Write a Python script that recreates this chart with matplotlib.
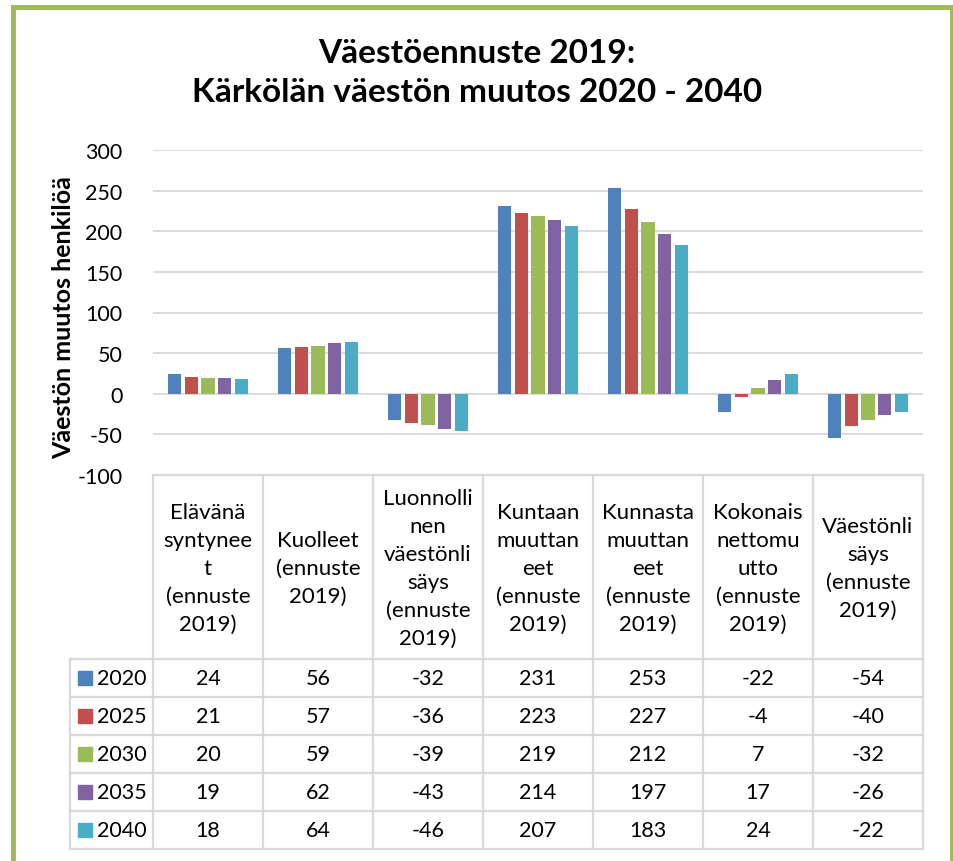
import matplotlib
matplotlib.use('Agg')
import matplotlib.pyplot as plt
from matplotlib.lines import Line2D
from matplotlib.patches import Rectangle

# data
categories = [
    'Elävänä\nsyntynee\nt\n(ennuste\n2019)',
    'Kuolleet\n(ennuste\n2019)',
    'Luonnolli\nnen\nväestönli\nsäys\n(ennuste\n2019)',
    'Kuntaan\nmuuttan\neet\n(ennuste\n2019)',
    'Kunnasta\nmuuttan\neet\n(ennuste\n2019)',
    'Kokonais\nnettomu\nutto\n(ennuste\n2019)',
    'Väestönli\nsäys\n(ennuste\n2019)',
]
years = ['2020', '2025', '2030', '2035', '2040']
v2020 = [24, 56, -32, 231, 253, -22, -54]
v2025 = [21, 57, -36, 223, 227, -4, -40]
v2030 = [20, 59, -39, 219, 212, 7, -32]
v2035 = [19, 62, -43, 214, 197, 17, -26]
v2040 = [18, 64, -46, 207, 183, 24, -22]
series = [v2020, v2025, v2030, v2035, v2040]
colors = ['#4F81BD', '#C0504D', '#9BBB59', '#8064A2', '#4BACC6']

title = 'Väestöennuste 2019:\nKärkölän väestön muutos 2020 - 2040'
ylabel = 'Väestön muutos henkilöä'
yticks = [-100, -50, 0, 50, 100, 150, 200, 250, 300]

plt.rcParams['font.family'] = ['Lato', 'DejaVu Sans']
plt.rcParams['axes.unicode_minus'] = False

W, H = 954, 862
fig = plt.figure(figsize=(W / 100, H / 100), dpi=100)
fig.patch.set_facecolor('white')

# layout in pixels
px_left, px_right = 153, 923
px_top, px_zero_bot = 151, 476
lab_left = 70
head_bot = 660
row_h = 38
grid_col = '#D9D9D9'

ax = fig.add_axes([px_left / W, 1 - px_zero_bot / H,
                   (px_right - px_left) / W, (px_zero_bot - px_top) / H])
ax.set_xlim(-0.5, len(categories) - 0.5)
ax.set_ylim(yticks[0], yticks[-1])

slot = 0.153
bw = 0.121
for i, (vals, c) in enumerate(zip(series, colors)):
    xs = [k + (i - 2) * slot for k in range(len(categories))]
    ax.bar(xs, vals, width=bw, color=c, zorder=3)

ax.set_yticks(yticks)
ax.set_xticks([])
ax.tick_params(axis='y', length=0, pad=22, labelsize=15.5)
ax.grid(axis='y', color=grid_col, linewidth=1.3, zorder=0)
for s in ax.spines.values():
    s.set_visible(False)

# data table below the axis
tab_bot = head_bot + row_h * len(years)
tax = fig.add_axes([lab_left / W, 1 - tab_bot / H,
                    (px_right - lab_left) / W, (tab_bot - px_zero_bot) / H])
tax.set_xlim(lab_left, px_right)
tax.set_ylim(tab_bot, px_zero_bot)
tax.axis('off')

colw = (px_right - px_left) / len(categories)
lk = dict(color=grid_col, linewidth=1.6, clip_on=False)
tax.plot([px_left, px_right], [px_zero_bot, px_zero_bot], **lk)
for r in range(len(years) + 1):
    yy = head_bot + r * row_h
    tax.plot([lab_left, px_right], [yy, yy], **lk)
for k in range(len(categories) + 1):
    xx = px_left + k * colw
    tax.plot([xx, xx], [px_zero_bot, tab_bot], **lk)
tax.plot([lab_left, lab_left], [head_bot, tab_bot], **lk)

for k, cat in enumerate(categories):
    tax.text(px_left + (k + 0.5) * colw, (px_zero_bot + head_bot) / 2 + 1, cat,
             ha='center', va='center', multialignment='center',
             fontsize=16, linespacing=1.5)

for r, (yr, vals, c) in enumerate(zip(years, series, colors)):
    yc = head_bot + (r + 0.5) * row_h
    tax.add_patch(Rectangle((78, yc - 7), 14, 14, color=c, clip_on=False))
    tax.text(97, yc, yr, ha='left', va='center', fontsize=15.5)
    for k, v in enumerate(vals):
        tax.text(px_left + (k + 0.5) * colw, yc, str(v),
                 ha='center', va='center', fontsize=15.5)

# titles
fig.text(477 / W, 1 - 73 / H, title, ha='center', va='center',
         fontsize=24, fontweight='bold', linespacing=1.42)
fig.text(64 / W, 1 - 318 / H, ylabel, rotation=90, ha='center', va='center',
         fontsize=18, fontweight='bold')

# green frame
green = '#9BBB59'
for xs, ys in [([13.5, 13.5], [7.5, H + 5]), ([13.5, 952], [7.5, 7.5]),
               ([952, 952], [7.5, H + 5])]:
    fig.add_artist(Line2D([x / W for x in xs], [1 - y / H for y in ys],
                          color=green, linewidth=3.5,
                          transform=fig.transFigure))

fig.savefig('out.png', dpi=100)
